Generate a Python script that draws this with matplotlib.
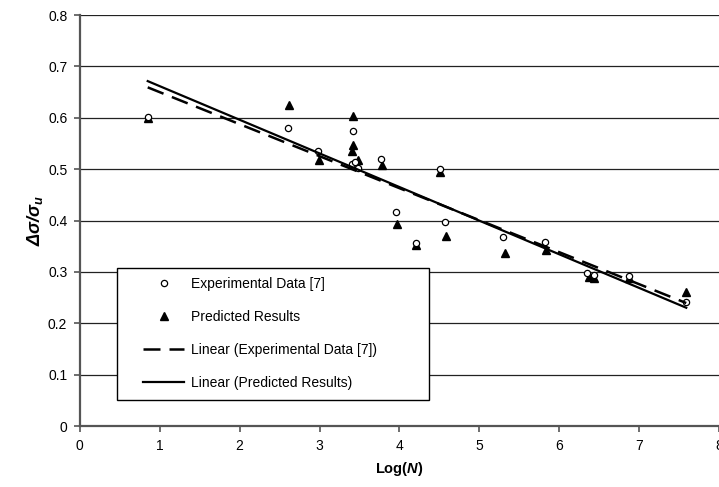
import numpy as np
import matplotlib
matplotlib.use('Agg')
import matplotlib.pyplot as plt
from matplotlib.patches import Rectangle
from matplotlib.ticker import FuncFormatter

plt.rcParams['font.family'] = ['Liberation Sans', 'DejaVu Sans']
plt.rcParams['mathtext.fontset'] = 'custom'
plt.rcParams['mathtext.it'] = 'Liberation Sans:bold:italic'
plt.rcParams['mathtext.rm'] = 'Liberation Sans:bold:italic'
plt.rcParams['mathtext.bf'] = 'Liberation Sans:bold'

# experimental data [7]
exp_x = [0.85, 2.61, 2.98, 3.42, 3.41, 3.45, 3.48, 3.77, 3.96, 4.21,
         4.51, 4.575, 5.30, 5.82, 6.35, 6.43, 6.875, 7.59]
exp_y = [0.602, 0.580, 0.536, 0.574, 0.511, 0.515, 0.502, 0.520, 0.416, 0.356,
         0.500, 0.398, 0.369, 0.359, 0.298, 0.294, 0.293, 0.241]

# predicted results
pred_x = [0.85, 2.62, 2.99, 3.42, 3.42, 3.41, 3.48, 3.78, 3.97, 4.21,
          4.51, 4.58, 5.32, 5.83, 6.37, 6.44, 6.875, 7.59]
pred_y = [0.600, 0.625, 0.517, 0.604, 0.548, 0.536, 0.517, 0.509, 0.393, 0.353,
          0.494, 0.370, 0.337, 0.343, 0.291, 0.288, 0.289, 0.261]

fig = plt.figure(figsize=(7.19, 4.87), dpi=100)
ax = fig.add_axes([0.111, 0.125, 0.889, 0.844])

ax.set_xlim(0, 8)
ax.set_ylim(0, 0.8)
ax.set_yticks(np.arange(0, 0.81, 0.1))
ax.set_xticks(range(0, 9))
ax.yaxis.set_major_formatter(FuncFormatter(lambda v, p: '0' if abs(v) < 1e-9 else f'{v:.1f}'))
ax.grid(axis='y', color='#222222', lw=0.9)
ax.set_axisbelow(True)

for s in ['top', 'right']:
    ax.spines[s].set_visible(False)
for s in ['left', 'bottom']:
    ax.spines[s].set_color('#555555')
    ax.spines[s].set_linewidth(1.6)
ax.tick_params(direction='out', length=4, width=1.2, color='#555555',
               labelsize=10, pad=5)

# trendlines (least squares, like Excel)
ex = np.array(exp_x)
px = np.array(pred_x)
k1, b1 = np.polyfit(ex, exp_y, 1)
k2, b2 = np.polyfit(px, pred_y, 1)
xs = np.array([min(ex.min(), px.min()), max(ex.max(), px.max())])

ax.plot(exp_x, exp_y, 'o', mfc='white', mec='black', ms=4.5, mew=0.9,
        label='Experimental Data [7]', zorder=4)
ax.plot(pred_x, pred_y, '^', color='black', ms=5.5,
        label='Predicted Results', zorder=3)
ax.plot(xs, k1 * xs + b1, color='black', lw=1.8, dashes=(6.8, 3.6),
        label='Linear (Experimental Data [7])', zorder=5)
ax.plot(xs, k2 * xs + b2, color='black', lw=1.6,
        label='Linear (Predicted Results)', zorder=5)

# legend box drawn by hand so the inner padding matches
ax.add_patch(Rectangle((0.058, 0.063), 0.488, 0.321, transform=ax.transAxes,
                       facecolor='white', edgecolor='black', lw=1.0, zorder=2))
leg = ax.legend(loc='upper left', bbox_to_anchor=(0.0986, 0.362),
                borderaxespad=0, borderpad=0, fontsize=10, handlelength=3,
                handletextpad=0.5, labelspacing=1.35, frameon=False)
leg.set_zorder(6)

ax.set_xlabel(r'Log($N$)', fontsize=10.5, fontweight='bold', labelpad=5)
ax.set_ylabel(r'$\Delta\sigma/\sigma_u$', fontsize=13, labelpad=2)

fig.savefig('out.png', dpi=100)
